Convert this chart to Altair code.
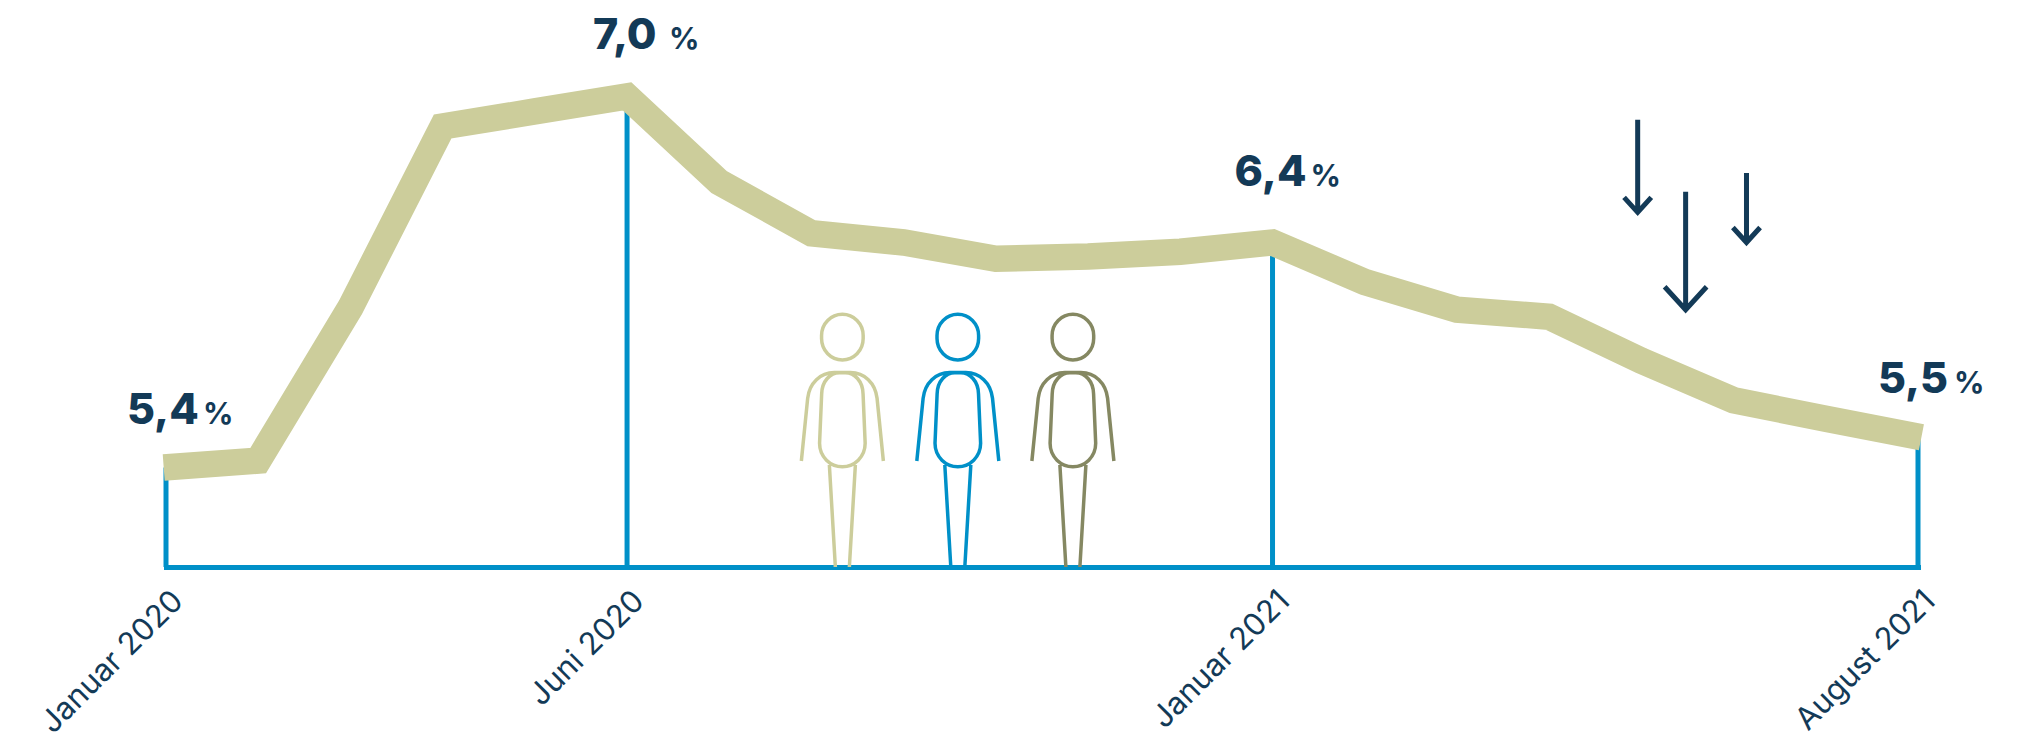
import altair as alt
import pandas as pd

months = [-0.025, 1, 2, 3, 4, 5, 6, 7, 8, 9, 10, 11, 12, 13, 14, 15, 16, 17, 18, 19.037]
rates = [5.40, 5.43, 6.09, 6.87, 6.935, 7.00, 6.63, 6.41, 6.37, 6.30, 6.31, 6.33, 6.37,
         6.20, 6.08, 6.05, 5.86, 5.69, 5.61, 5.53]

tick_months = [0, 5, 12, 19]
tick_labels = ["Januar 2020", "Juni 2020", "Januar 2021", "August 2021"]
rule_tops = [5.40, 7.00, 6.37, 5.53]

label_months = [0, 5, 12, 19]
label_rates = [5.4, 7.0, 6.4, 5.5]
label_texts = ["5,4", "7,0", "6,4", "5,5"]
label_dx = [-39, -34, -38, -40]
label_dy = [-43, -47, -50, -51]

person_months = [7.335, 8.587, 9.835]
person_colors = ["#CCCD9B", "#0090C8", "#858862"]

arrow_months = [15.96, 16.48, 17.14]
arrow_rates = [6.487, 6.067, 6.357]
arrow_paths = [
    "M0,-95.5 V-3 M-13.6,-18 L0,-3 L13.6,-18",
    "M0,-121 V-3 M-21,-26 L0,-3 L21,-26",
    "M0,-72.6 V-3 M-13.6,-18 L0,-3 L13.6,-18",
]

BASE = 4.971
LINE = "#CCCD9B"
BLUE = "#0090C8"
NAVY = "#133A57"
FONT = "Inter"

PERSON = (
    "M-20.8,-231.5 C-20.8,-243.5 -11.4,-252.7 0,-252.7 C11.4,-252.7 20.8,-243.5 20.8,-231.5 V-228.5 "
    "C20.8,-216.5 11.4,-207 0,-207 C-11.4,-207 -20.8,-216.5 -20.8,-228.5 Z "
    "M-20.7,-173 C-20.5,-186 -12,-194.3 -3,-194.3 H3 C12,-194.3 20.5,-186 20.7,-173 L22.8,-123.7 "
    "C22.8,-110 12,-100.3 0,-100.3 C-12,-100.3 -22.8,-110 -22.8,-123.7 Z "
    "M-41,-106 L-34.7,-168.7 C-33,-184 -22,-194.5 -8,-194.5 H8 C22,-194.5 33,-184 34.7,-168.7 L41,-106 "
    "M-13,-102 L-7,0 M13,-102 L7,0"
)

label_expr = " : ".join(
    f"datum.value == {m} ? '{t}'" for m, t in zip(tick_months, tick_labels)
) + " : ''"

x_axis = alt.Axis(
    values=tick_months, labelExpr=label_expr, labelAngle=-45, labelAlign="right",
    labelBaseline="middle", labelFont=FONT, labelFontSize=31, labelColor=NAVY,
    labelPadding=29, labelOffset=12, labelFlush=False, labelOverlap=False, labelLimit=500,
    ticks=False, grid=False, title=None, domainColor=BLUE, domainWidth=5, domainCap="square",
)
X = alt.X("m:Q", scale=alt.Scale(domain=[0, 19], nice=False, zero=False), axis=x_axis)
Y = alt.Y("v:Q", scale=alt.Scale(domain=[BASE, 7.381], nice=False, zero=False), axis=None)

line_df = pd.DataFrame({"m": months, "v": rates})
rule_df = pd.DataFrame({"m": tick_months, "v": rule_tops, "b": [BASE] * len(tick_months)})

layers = [
    alt.Chart(rule_df).mark_rule(color=BLUE, strokeWidth=5).encode(x=X, y=Y, y2="b:Q"),
    alt.Chart(line_df).mark_line(color=LINE, strokeWidth=26.5, strokeJoin="miter", strokeCap="butt",
                                 strokeMiterLimit=10).encode(x=X, y=Y),
]

for m, c in zip(person_months, person_colors):
    layers.append(
        alt.Chart(pd.DataFrame({"m": [m], "v": [BASE]}))
        .mark_point(shape=PERSON, size=4, filled=False, stroke=c, strokeWidth=3.5, opacity=1)
        .encode(x=X, y=Y)
    )

for m, v, p in zip(arrow_months, arrow_rates, arrow_paths):
    layers.append(
        alt.Chart(pd.DataFrame({"m": [m], "v": [v]}))
        .mark_point(shape=p, size=4, filled=False, stroke=NAVY, strokeWidth=5, opacity=1, strokeJoin="miter")
        .encode(x=X, y=Y)
    )

for m, v, t, dx, dy in zip(label_months, label_rates, label_texts, label_dx, label_dy):
    df = pd.DataFrame({"m": [m], "v": [v], "t": [t], "p": ["%"]})
    layers.append(
        alt.Chart(df).mark_text(font=FONT, fontWeight=800, fontSize=43, color=NAVY, align="left",
                                baseline="alphabetic", dx=dx, dy=dy).encode(x=X, y=Y, text="t:N")
    )
    layers.append(
        alt.Chart(df).mark_text(font=FONT, fontWeight=700, fontSize=30, color=NAVY, align="left",
                                baseline="alphabetic", dx=dx + 76, dy=dy).encode(x=X, y=Y, text="p:N")
    )

chart = (
    alt.layer(*layers)
    .properties(
        width=1752, height=559,
        padding={"left": 158, "right": 108, "top": 0, "bottom": 171},
        autosize=alt.AutoSizeParams(type="none"),
        background="white",
    )
    .configure_view(stroke=None)
)

chart.save("out.html", embed_options={"renderer": "svg", "actions": False})
